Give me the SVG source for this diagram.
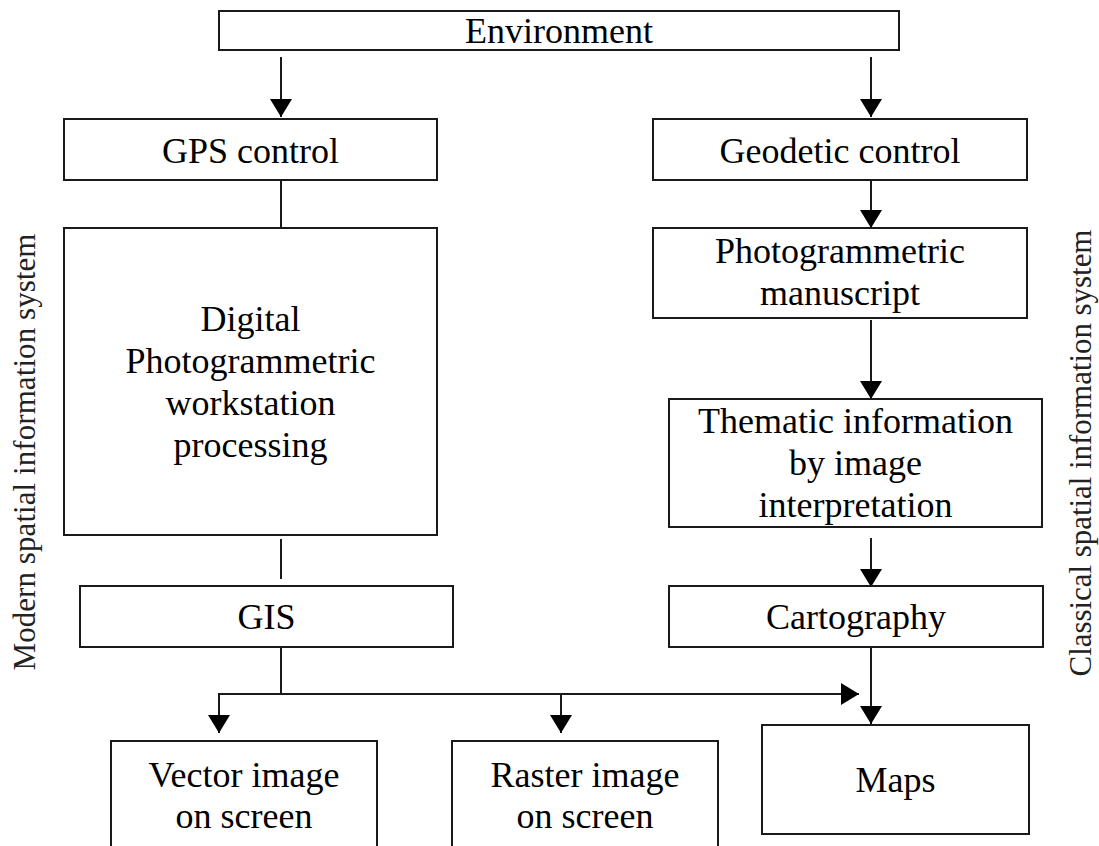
<svg xmlns="http://www.w3.org/2000/svg" width="1099" height="846" viewBox="0 0 1099 846">
<style>
rect.box { fill: #ffffff; stroke: #1a1a1a; stroke-width: 2; }
text { font-family: "Liberation Serif", "Times New Roman", serif; font-size: 36px; fill: #000000; text-anchor: middle; }
text.side { font-size: 31px; fill: #222222; }
.conn path, .conn line { stroke: #1a1a1a; stroke-width: 2; fill: none; }
</style>
<defs>
<marker id="ah" markerUnits="userSpaceOnUse" markerWidth="18" markerHeight="22" viewBox="0 0 18 22" refX="18" refY="11" orient="auto">
<path d="M0,0 L18,11 L0,22 z" fill="#000000"/>
</marker>
</defs>
<rect width="1099" height="846" fill="#ffffff"/>

<g class="conn" id="connectors">
<line x1="281" y1="57" x2="281" y2="117" marker-end="url(#ah)"/>
<line x1="871" y1="57" x2="871" y2="117" marker-end="url(#ah)"/>
<line x1="281" y1="180" x2="281" y2="228"/>
<line x1="871" y1="180" x2="871" y2="228" marker-end="url(#ah)"/>
<line x1="871" y1="320" x2="871" y2="399" marker-end="url(#ah)"/>
<line x1="871" y1="538" x2="871" y2="587" marker-end="url(#ah)"/>
<line x1="281" y1="539" x2="281" y2="579"/>
<line x1="281" y1="647" x2="281" y2="694"/>
<path d="M219,694 L859,694" marker-end="url(#ah)"/>
<line x1="219" y1="693" x2="219" y2="733" marker-end="url(#ah)"/>
<line x1="561" y1="694" x2="561" y2="733" marker-end="url(#ah)"/>
<line x1="871" y1="647" x2="871" y2="724" marker-end="url(#ah)"/>
</g>

<g id="environment"><rect class="box" x="219" y="11" width="680" height="39"/><text x="559" y="43">Environment</text></g>
<g id="gps"><rect class="box" x="64" y="119" width="373" height="61"/><text x="250.5" y="163">GPS control</text></g>
<g id="geodetic"><rect class="box" x="653" y="119" width="374" height="61"/><text x="840" y="163">Geodetic control</text></g>
<g id="digital"><rect class="box" x="64" y="228" width="373" height="307"/>
<text x="250.5" y="331">Digital</text><text x="250.5" y="373">Photogrammetric</text><text x="250.5" y="415">workstation</text><text x="250.5" y="457">processing</text></g>
<g id="photomanuscript"><rect class="box" x="653" y="228" width="374" height="90"/>
<text x="840" y="263">Photogrammetric</text><text x="840" y="305">manuscript</text></g>
<g id="thematic"><rect class="box" x="669" y="399" width="373" height="128"/>
<text x="855.5" y="433">Thematic information</text><text x="855.5" y="475">by image</text><text x="855.5" y="517">interpretation</text></g>
<g id="gis"><rect class="box" x="80" y="586" width="373" height="61"/><text x="266.5" y="629">GIS</text></g>
<g id="cartography"><rect class="box" x="669" y="586" width="374" height="61"/><text x="856" y="629">Cartography</text></g>
<g id="vector"><rect class="box" x="111" y="741" width="266" height="130"/>
<text x="244" y="787">Vector image</text><text x="244" y="828">on screen</text></g>
<g id="raster"><rect class="box" x="452" y="741" width="266" height="130"/>
<text x="585" y="787">Raster image</text><text x="585" y="828">on screen</text></g>
<g id="maps"><rect class="box" x="762" y="725" width="267" height="109"/><text x="895.5" y="792">Maps</text></g>

<g id="modern-label"><text class="side" transform="translate(35,452) rotate(-90)" textLength="437" lengthAdjust="spacing">Modern spatial information system</text></g>
<g id="classical-label"><text class="side" transform="translate(1091,453) rotate(-90)" textLength="447" lengthAdjust="spacing">Classical spatial information system</text></g>
</svg>
